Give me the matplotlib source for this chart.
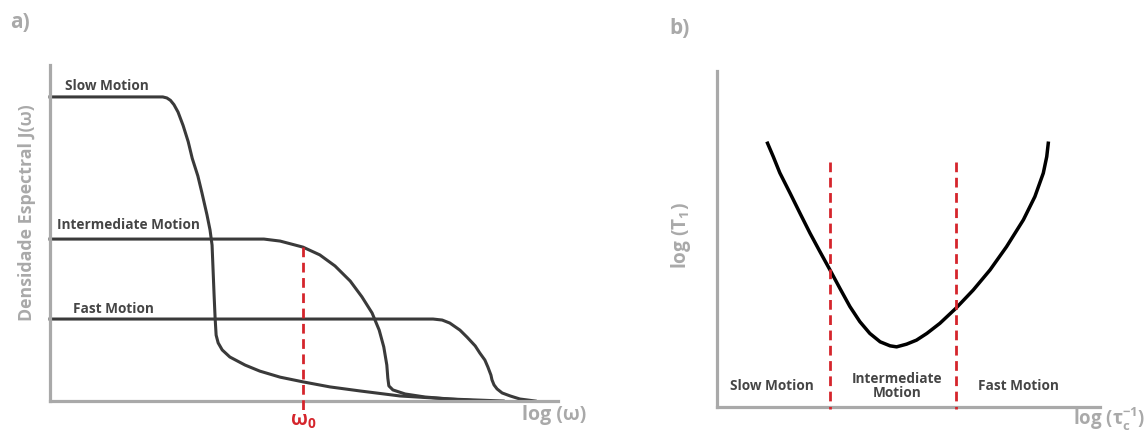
import matplotlib as mpl
mpl.use('Agg')
from matplotlib import pyplot as plt

# ---- panel a: spectral density curves (arbitrary units, axis 0..10) ----
slow_x = [0, 2.22, 2.30, 2.37, 2.44, 2.52, 2.62, 2.72, 2.80, 2.91, 2.99, 3.09, 3.15, 3.19, 3.21,
          3.23, 3.25, 3.27, 3.31, 3.39, 3.54, 3.84, 4.13, 4.53, 4.98, 5.51, 6.10, 6.89, 7.87, 8.92]
slow_y = [9.05, 9.05, 9.02, 8.95, 8.82, 8.60, 8.20, 7.72, 7.22, 6.70, 6.20, 5.54, 5.09, 4.64, 3.90,
          3.15, 2.47, 1.96, 1.73, 1.52, 1.31, 1.07, 0.89, 0.71, 0.57, 0.42, 0.30, 0.15, 0.06, 0.0]

inter_x = [0, 4.21, 4.53, 4.98, 5.31, 5.61, 5.91, 6.14, 6.34, 6.48, 6.57, 6.63, 6.65, 6.67,
           6.75, 6.99, 7.38, 7.87, 8.46]
inter_y = [4.82, 4.82, 4.76, 4.58, 4.35, 4.02, 3.57, 3.10, 2.62, 2.11, 1.61, 1.07, 0.68, 0.45,
           0.33, 0.21, 0.12, 0.06, 0.0]

fast_x = [0, 7.54, 7.72, 7.87, 8.07, 8.21, 8.37, 8.46, 8.56, 8.62, 8.68, 8.70, 8.74, 8.80,
          8.90, 9.06, 9.25, 9.55]
fast_y = [2.44, 2.44, 2.41, 2.32, 2.11, 1.90, 1.64, 1.43, 1.22, 1.01, 0.77, 0.63, 0.48, 0.36,
          0.24, 0.15, 0.06, 0.0]

omega0_x = 4.98
omega0_top = 4.58

# ---- panel b: T1 vs correlation rate ----
t1_x = [1.32, 1.47, 1.64, 1.91, 2.17, 2.43, 2.69, 2.95, 3.21, 3.47, 3.73, 3.99, 4.26, 4.52,
        4.69, 4.95, 5.21, 5.48, 5.82, 6.24, 6.69, 7.13, 7.56, 8.00, 8.30, 8.52, 8.61, 8.65]
t1_y = [7.85, 7.45, 6.97, 6.36, 5.76, 5.17, 4.62, 4.08, 3.53, 2.99, 2.54, 2.19, 1.94, 1.82,
        1.79, 1.87, 1.99, 2.19, 2.49, 2.94, 3.48, 4.08, 4.77, 5.57, 6.26, 6.96, 7.45, 7.85]

region_bounds = [2.95, 6.24]
region_top = 7.29
region_labels = ['Slow Motion', 'Intermediate\nMotion', 'Fast Motion']
region_centers = [1.44, 4.70, 7.86]

fam = ['Open Sans', 'DejaVu Sans']
plt.rcParams['font.family'] = fam
plt.rcParams['mathtext.fontset'] = 'custom'
plt.rcParams['mathtext.rm'] = 'Open Sans:bold'
plt.rcParams['mathtext.it'] = 'Open Sans:bold'
plt.rcParams['mathtext.bf'] = 'Open Sans:bold'
plt.rcParams['lines.scale_dashes'] = False

AXIS = '#a9a9a9'
CURVE = '#3a3a3a'
RED = '#d5252c'
LABEL = '#454545'

fig = plt.figure(figsize=(11.47, 4.30), dpi=100)


def style_axes(ax):
    for s in ['top', 'right']:
        ax.spines[s].set_visible(False)
    for s in ['left', 'bottom']:
        ax.spines[s].set_color(AXIS)
        ax.spines[s].set_linewidth(2.3)
    ax.set_xticks([])
    ax.set_yticks([])
    ax.set_xlim(0, 10)
    ax.set_ylim(0, 10)
    ax.patch.set_alpha(0)


# panel a
ax1 = fig.add_axes([0.0436, 0.0674, 0.4429, 0.7814])
style_axes(ax1)
for xs, ys in [(slow_x, slow_y), (inter_x, inter_y), (fast_x, fast_y)]:
    ax1.plot(xs, ys, color=CURVE, lw=2.2, clip_on=False, solid_joinstyle='round')
ax1.plot([omega0_x, omega0_x], [omega0_top, -0.33], color=RED, lw=2.0,
         dashes=(7, 4), clip_on=False, zorder=5)

ax1.text(0.30, 9.38, 'Slow Motion', fontsize=9.8, fontweight='bold', color=LABEL, va='center')
ax1.text(0.14, 5.24, 'Intermediate Motion', fontsize=9.8, fontweight='bold', color=LABEL, va='center')
ax1.text(0.45, 2.74, 'Fast Motion', fontsize=9.8, fontweight='bold', color=LABEL, va='center')
ax1.text(-0.45, 5.6, 'Densidade Espectral J(ω)', fontsize=12.8, fontweight='bold', color=AXIS,
         rotation=90, ha='center', va='center', clip_on=False)
ax1.text(9.29, -0.42, 'log (ω)', fontsize=14, fontweight='bold', color=AXIS,
         ha='left', va='center', clip_on=False)
ax1.text(omega0_x, -0.30, 'ω$_0$', fontsize=14, fontweight='bold', color=RED,
         ha='center', va='top', clip_on=False)

# panel b
ax2 = fig.add_axes([0.6251, 0.0535, 0.3339, 0.7814])
style_axes(ax2)
ax2.plot(t1_x, t1_y, color='black', lw=2.5, clip_on=False)
for xb in region_bounds:
    ax2.plot([xb, xb], [region_top, -0.06], color=RED, lw=2.0, dashes=(7, 4),
             clip_on=False, zorder=5)
for lab, xc in zip(region_labels, region_centers):
    ax2.text(xc, 0.62, lab, fontsize=9.8, fontweight='bold', color=LABEL,
             ha='center', va='center', linespacing=0.95)
ax2.text(-0.94, 5.09, 'log (T$_1$)', fontsize=13.7, fontweight='bold', color=AXIS,
         rotation=90, ha='center', va='center', clip_on=False)
ax2.text(9.30, -0.33, 'log (τ$_c^{-1}$)', fontsize=13.5, fontweight='bold', color=AXIS,
         ha='left', va='center', clip_on=False)

fig.text(10 / 1147, 1 - 23 / 430, 'a)', fontsize=15, fontweight='bold', color=AXIS,
         ha='left', va='center')
fig.text(669 / 1147, 1 - 28 / 430, 'b)', fontsize=15, fontweight='bold', color=AXIS,
         ha='left', va='center')

fig.savefig('out.png', dpi=100)
